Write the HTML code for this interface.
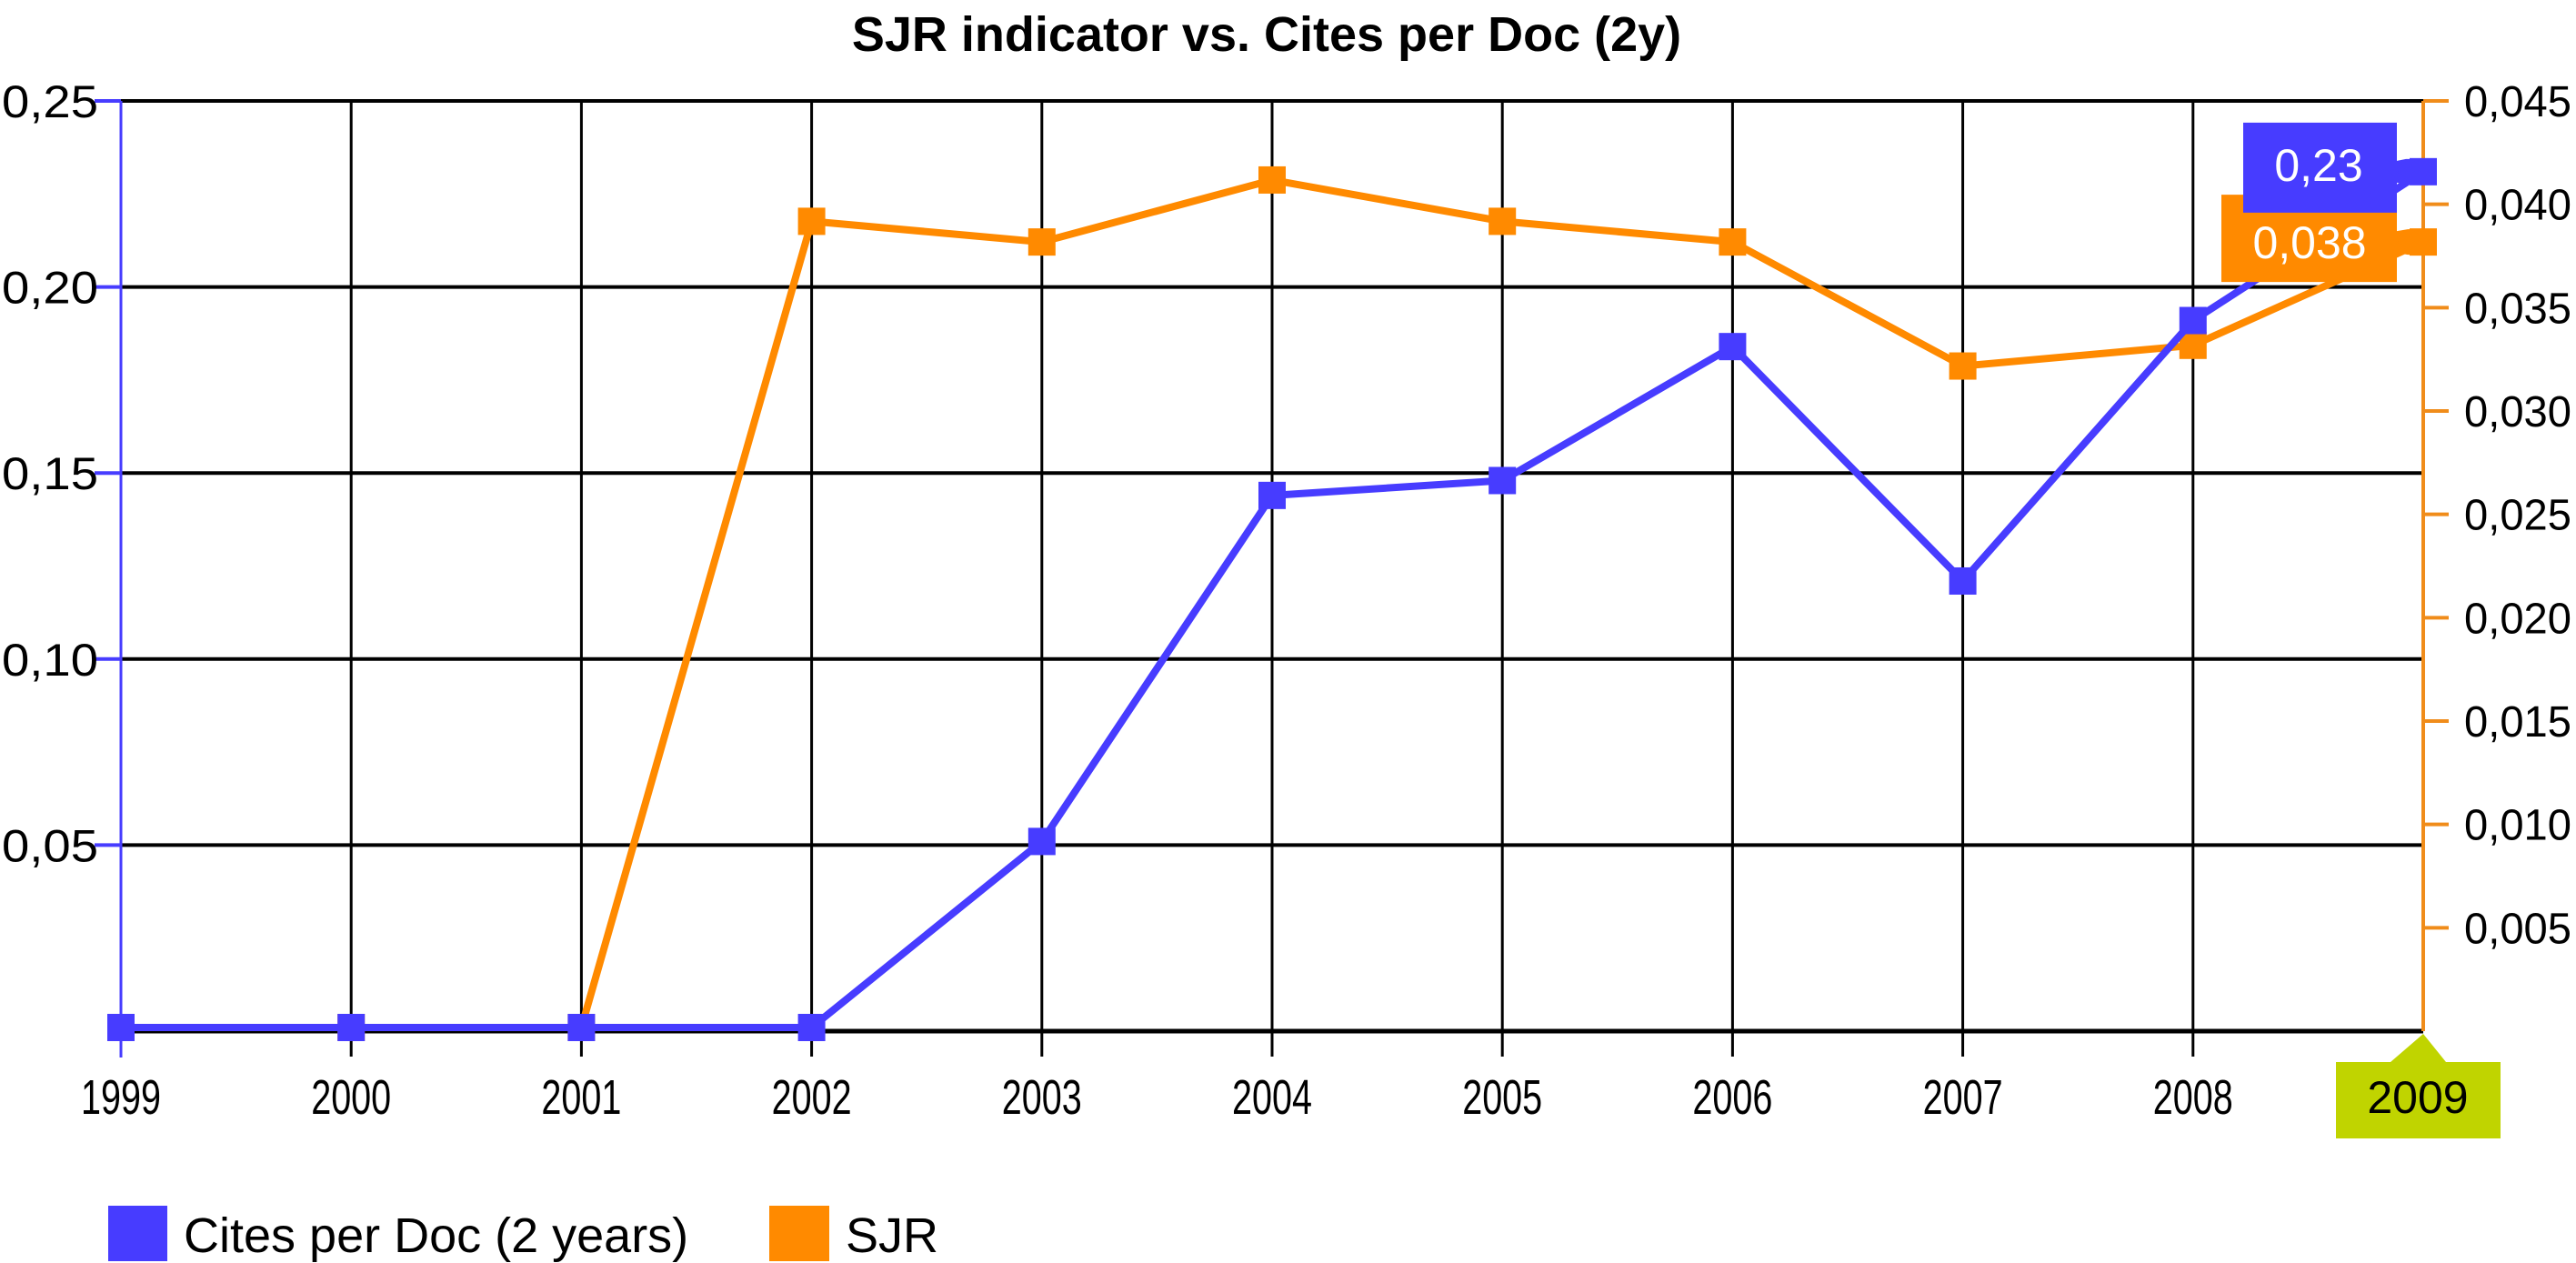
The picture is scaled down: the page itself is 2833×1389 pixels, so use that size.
<!DOCTYPE html>
<html><head><meta charset="utf-8"><style>
body{margin:0;background:#fff}
svg{display:block;font-family:"Liberation Sans",Arial,sans-serif}
</style></head><body>
<svg id="chart" width="2833" height="1389" viewBox="0 0 2833 1389" xmlns="http://www.w3.org/2000/svg">
<text x="1393" y="56" font-size="54" font-weight="bold" text-anchor="middle">SJR indicator vs. Cites per Doc (2y)</text>
<g id="grid"></g><g id="series"></g><g id="overlay"></g>
<g>
<rect x="119" y="1326" width="65" height="61" fill="#473cff"/>
<text x="202" y="1377" font-size="54">Cites per Doc (2 years)</text>
<rect x="846" y="1326" width="66" height="61" fill="#ff8a00"/>
<text x="930" y="1377" font-size="54">SJR</text>
</g>
</svg>
<script>
const years=["1999","2000","2001","2002","2003","2004","2005","2006","2007","2008","2009"];
const cites=[0,0,0,0,0.05,0.143,0.147,0.183,0.12,0.19,0.23];
const sjr=[0,0,0,0.039,0.038,0.041,0.039,0.038,0.032,0.033,0.038];
const leftTicks=[0.05,0.10,0.15,0.20,0.25];
const rightTicks=[0.005,0.010,0.015,0.020,0.025,0.030,0.035,0.040,0.045];
const X0=133,X1=2665,Y0=1134,Y1=111;
const xs=i=>X0+(X1-X0)*i/(years.length-1);
const yl=v=>Y0-(Y0-Y1)*v/0.25;
const yr=v=>Y0-(Y0-Y1)*v/0.045;
const NS="http://www.w3.org/2000/svg";
function mk(tag,attrs,parent,txt){const e=document.createElementNS(NS,tag);for(const k in attrs)e.setAttribute(k,attrs[k]);if(txt!==undefined)e.textContent=txt;parent.appendChild(e);return e;}
const g=document.getElementById('grid'),s=document.getElementById('series'),o=document.getElementById('overlay');
const fmt=(v,d)=>v.toFixed(d).replace('.',',');
leftTicks.forEach(v=>{const y=yl(v);
 const l=mk('line',{x1:X0,x2:X1,y1:y,y2:y,stroke:'#000','stroke-width':4},g);
 
 const t=mk('line',{x1:104,x2:X0,y1:y,y2:y,stroke:'#473cff','stroke-width':4},g);
 
 const tx=mk('text',{x:2,y:y+18,'font-size':50,textLength:106,lengthAdjust:'spacingAndGlyphs'},g,fmt(v,2));
 });
const base=mk('line',{x1:X0,x2:X1,y1:Y0,y2:Y0,stroke:'#000','stroke-width':5},g);

years.forEach((yv,i)=>{const x=xs(i);
 if(i>0&&i<years.length-1){const l=mk('line',{x1:x,x2:x,y1:Y1,y2:1162,stroke:'#000','stroke-width':3},g);
 }
 if(i<years.length-1){const t=mk('text',{x:x-44,y:1225,'font-size':54,textLength:88,lengthAdjust:'spacingAndGlyphs'},g,yv);
 }});
const la=mk('line',{x1:X0,x2:X0,y1:Y1,y2:1163,stroke:'#473cff','stroke-width':3},g);

const ra=mk('line',{x1:X1,x2:X1,y1:Y1,y2:Y0,stroke:'#f08c1a','stroke-width':4},g);

rightTicks.forEach(v=>{const y=yr(v);
 const t=mk('line',{x1:X1,x2:2693,y1:y,y2:y,stroke:'#f08c1a','stroke-width':4},g);
 
 const tx=mk('text',{x:2710,y:y+17,'font-size':48,textLength:118,lengthAdjust:'spacingAndGlyphs'},g,fmt(v,3));
 });
function series(vals,yf,color,name){
 const p=mk('polyline',{points:vals.map((v,i)=>xs(i)+','+(yf(v)-4)).join(' '),fill:'none',stroke:color,'stroke-width':8,'stroke-linejoin':'round'},s);
 
 vals.forEach((v,i)=>{const r=mk('rect',{x:xs(i)-15,y:yf(v)-4-15,width:30,height:30,fill:color},s);
 });}
series(sjr,yr,'#ff8a00','sjr');
series(cites,yl,'#473cff','cites');
const n=years.length-1,lx=xs(n);
const sy=yr(sjr[n])-4,cy=yl(cites[n])-4;
const tb2=mk('path',{d:`M2443,${sy-52} H2636 V${sy-12} L2648,${sy-14} H${lx+10} V${sy+14} H2648 L2636,${sy+12} V${sy+44} H2443 Z`,fill:'#ff8a00'},o);

const tt2=mk('text',{x:2540,y:sy+18,'font-size':50,fill:'#fff','text-anchor':'middle'},o,fmt(sjr[n],3));

const tb1=mk('path',{d:`M2467,${cy-54} H2636 V${cy-12} L2646,${cy-14} H${lx+10} V${cy+14} H2646 L2636,${cy+12} V${cy+45} H2467 Z`,fill:'#473cff'},o);

const tt1=mk('text',{x:2550,y:cy+10,'font-size':50,fill:'#fff','text-anchor':'middle'},o,fmt(cites[n],2));

const gb=mk('path',{d:`M2569,1168 H2629 L${lx},1137 L2690,1168 H2750 V1252 H2569 Z`,fill:'#c0d400'},o);

const gt=mk('text',{x:2659,y:1224,'font-size':50,'text-anchor':'middle'},o,years[n]);

</script>
</body></html>
